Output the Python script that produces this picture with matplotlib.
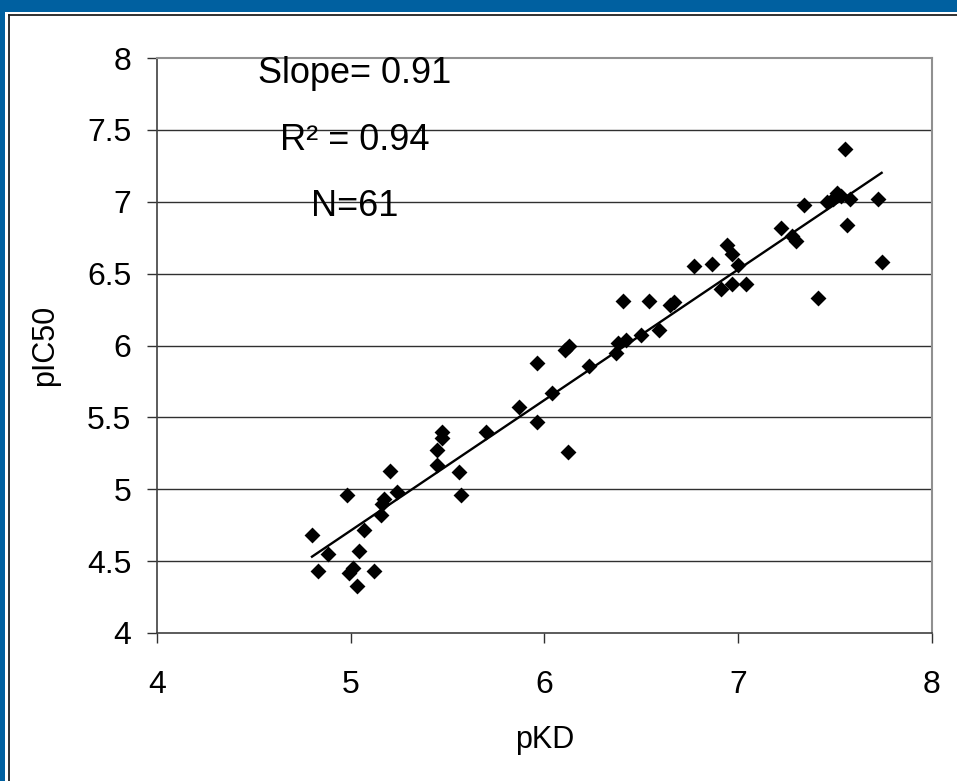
import numpy as np
import matplotlib
matplotlib.use("Agg")
import matplotlib.pyplot as plt
from matplotlib.patches import Rectangle
from matplotlib.lines import Line2D

plt.rcParams['font.family'] = ['Liberation Sans', 'DejaVu Sans']

pKD = [4.80, 4.83, 4.88, 4.98, 4.99, 5.01, 5.03, 5.04, 5.07, 5.12,
       5.155, 5.17, 5.16, 5.20, 5.24, 5.445, 5.445, 5.47, 5.47, 5.56,
       5.57, 5.70, 5.87, 5.96, 5.96, 6.04, 6.12, 6.105, 6.125, 6.23,
       6.37, 6.38, 6.42, 6.50, 6.59, 6.405, 6.54, 6.65, 6.67, 6.77,
       6.865, 6.91, 6.94, 6.97, 7.00, 6.97, 7.04, 7.22, 7.28, 7.30,
       7.34, 7.41, 7.46, 7.49, 7.51, 7.53, 7.55, 7.575, 7.56, 7.72, 7.74]
pIC50 = [4.68, 4.43, 4.55, 4.96, 4.42, 4.45, 4.33, 4.57, 4.72, 4.43,
         4.82, 4.93, 4.90, 5.13, 4.98, 5.17, 5.27, 5.36, 5.40, 5.12,
         4.96, 5.40, 5.57, 5.47, 5.88, 5.67, 5.26, 5.97, 6.00, 5.86,
         5.95, 6.015, 6.04, 6.07, 6.11, 6.31, 6.31, 6.28, 6.30, 6.55,
         6.57, 6.39, 6.70, 6.64, 6.56, 6.43, 6.43, 6.82, 6.76, 6.73,
         6.98, 6.33, 7.00, 7.02, 7.06, 7.04, 7.365, 7.02, 6.84, 7.02, 6.58]

x_ticks = [4, 5, 6, 7, 8]
y_ticks = [4, 4.5, 5, 5.5, 6, 6.5, 7, 7.5, 8]
y_tick_labels = ['4', '4.5', '5', '5.5', '6', '6.5', '7', '7.5', '8']
stats_text = ["Slope= 0.91", "R² = 0.94", "N=61"]

W, H = 957, 781
fig = plt.figure(figsize=(W / 100, H / 100), dpi=100)
fig.patch.set_facecolor('white')

# blue frame
fig.patches.append(Rectangle((0, 1 - 12 / H), 1, 12 / H, transform=fig.transFigure,
                             facecolor='#0060A0', edgecolor='none', zorder=0))
fig.patches.append(Rectangle((0, 0), 4.5 / W, 1, transform=fig.transFigure,
                             facecolor='#0060A0', edgecolor='none', zorder=0))
fig.lines.append(Line2D([9 / W, 1], [1 - 14.5 / H, 1 - 14.5 / H], transform=fig.transFigure,
                        color='#202020', lw=1.3))
fig.lines.append(Line2D([9 / W, 9 / W], [0, 1 - 14.5 / H], transform=fig.transFigure,
                        color='#202020', lw=1.3))

ax = fig.add_axes([157 / W, (H - 633) / H, (932 - 157) / W, (633 - 58) / H])
ax.set_xlim(4, 8)
ax.set_ylim(4, 8)

for yv in y_ticks[1:-1]:
    ax.axhline(yv, color='#303030', lw=1.0, zorder=1)

x = np.array(pKD)
y = np.array(pIC50)
ax.scatter(x, y, marker='D', s=8.1 ** 2, color='black', zorder=3, linewidths=0)
slope, intercept = np.polyfit(x, y, 1)
xs = np.array([x.min(), x.max()])
ax.plot(xs, slope * xs + intercept, color='black', lw=1.7, zorder=2)

ax.set_xticks(x_ticks)
ax.set_xticklabels([str(v) for v in x_ticks])
ax.set_yticks(y_ticks)
ax.set_yticklabels(y_tick_labels)
ax.tick_params(axis='both', direction='out', length=7.5, width=1.0, color='#303030',
               labelsize=23)
ax.tick_params(axis='x', pad=19)
ax.tick_params(axis='y', pad=11)

for side in ['top', 'right']:
    ax.spines[side].set_color('#909090')
    ax.spines[side].set_linewidth(1.5)
for side in ['left', 'bottom']:
    ax.spines[side].set_color('#404040')
    ax.spines[side].set_linewidth(1.2)

ax.set_xlabel('pKD', fontsize=22, labelpad=18)
ax.set_ylabel('pIC50', fontsize=22, labelpad=19)

tx = (355 - 157) / (932 - 157)
for txt, by in zip(stats_text, [83, 150, 216]):
    ax.text(tx, (633 - by) / (633 - 58), txt, transform=ax.transAxes,
            ha='center', va='baseline', fontsize=26, color='black')

fig.savefig('out.png', dpi=100)
